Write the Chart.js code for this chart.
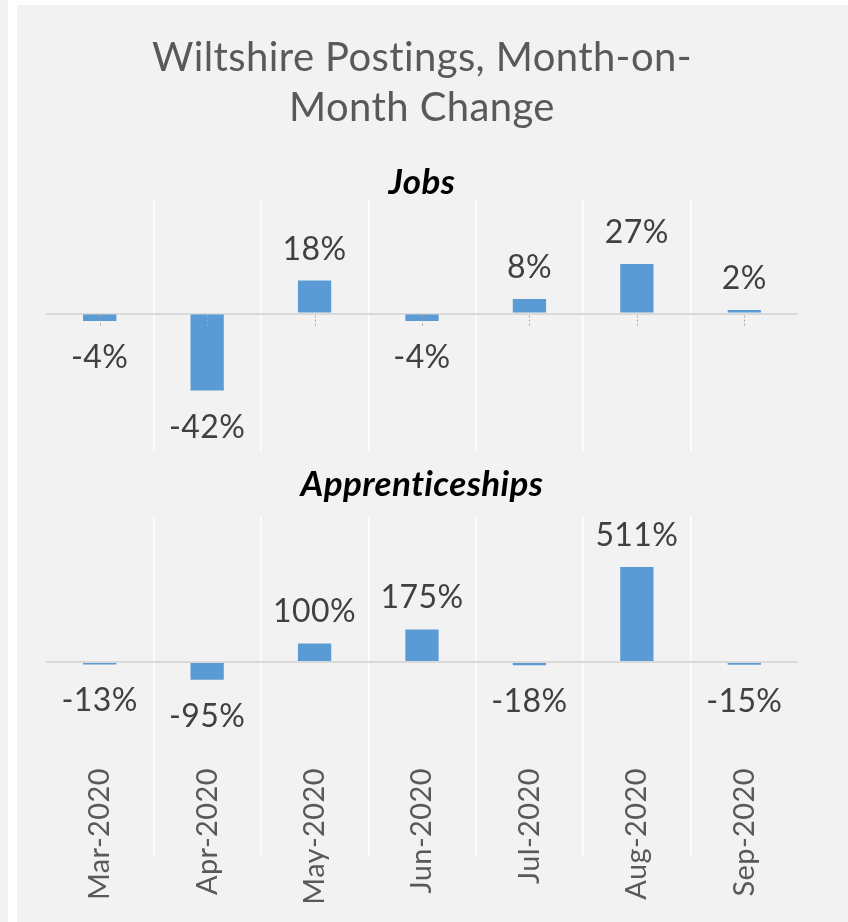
<!DOCTYPE html>
<html>
<head>
<meta charset="utf-8">
<title>Wiltshire Postings, Month-on-Month Change</title>
<script src="https://cdn.jsdelivr.net/npm/chart.js@4.4.1/dist/chart.umd.min.js"></script>
<style>
  html, body { margin: 0; padding: 0; background: #fff; width: 848px; height: 922px; overflow: hidden; }
  #strip { position: absolute; left: 0; top: 0; width: 8px; height: 922px; background: #f2f2f2; }
  #panel { position: absolute; left: 17px; top: 5px; width: 831px; height: 917px; background: #f2f2f2; }
  canvas { position: absolute; left: 0; }
  #jobsChart { top: 0; }
  #appChart { top: 455px; }
</style>
</head>
<body>
<div id="strip"></div>
<div id="panel">
  <canvas id="jobsChart" width="831" height="455"></canvas>
  <canvas id="appChart" width="831" height="462"></canvas>
</div>
<script>
// data
const months = ['Mar-2020', 'Apr-2020', 'May-2020', 'Jun-2020', 'Jul-2020', 'Aug-2020', 'Sep-2020'];
const jobsChange = [-4, -42, 18, -4, 8, 27, 2];
const apprenticeshipChange = [-13, -95, 100, 175, -18, 511, -15];

const barColor = '#5b9bd5';
const fontFamily = 'Lato, "Open Sans", sans-serif';

// a touch of letter spacing (also stops Lato's "ti" ligature)
const spacing = {
  id: 'spacing',
  beforeUpdate(chart) { chart.ctx.letterSpacing = '0.4px'; }
};

// draws the % labels above / below each bar
const valueLabels = {
  id: 'valueLabels',
  afterDatasetsDraw(chart, args, opts) {
    const ctx = chart.ctx;
    const meta = chart.getDatasetMeta(0);
    const values = chart.data.datasets[0].data;
    const zero = chart.scales.y.getPixelForValue(0);
    ctx.save();
    // little dotted marks under the axis (jobs panel only)
    if (opts.marks) {
      ctx.strokeStyle = '#a6a6a6';
      ctx.lineWidth = 1;
      ctx.setLineDash([2, 2]);
      meta.data.forEach(bar => {
        ctx.beginPath();
        ctx.moveTo(Math.round(bar.x) + 0.5, zero + 2);
        ctx.lineTo(Math.round(bar.x) + 0.5, zero + 13);
        ctx.stroke();
      });
      ctx.setLineDash([]);
    }
    ctx.font = '32px ' + fontFamily;
    ctx.fillStyle = '#404040';
    ctx.textAlign = 'center';
    ctx.textBaseline = 'alphabetic';
    meta.data.forEach((bar, i) => {
      const v = values[i];
      const y = v >= 0 ? bar.y - 21 : bar.y + 47;
      ctx.fillText(v + '%', bar.x, y);
    });
    ctx.restore();
  }
};

const vGrid = c => (c.index > 0 && c.index < months.length) ? '#ffffff' : 'rgba(0,0,0,0)';

// only the zero line is drawn on the value axis
function yScale(min, max) {
  return {
    min: min, max: max,
    afterBuildTicks: axis => { axis.ticks = [{ value: 0 }]; },
    ticks: { display: false },
    grid: { color: '#d9d9d9', lineWidth: 2, drawTicks: false },
    border: { display: false }
  };
}

const subFont = { family: fontFamily, size: 35, weight: 'bold', style: 'italic', lineHeight: 1 };

new Chart(document.getElementById('jobsChart'), {
  type: 'bar',
  data: {
    labels: months,
    datasets: [{ data: jobsChange, backgroundColor: barColor, barPercentage: 1, categoryPercentage: 0.31 }]
  },
  options: {
    responsive: false,
    animation: false,
    layout: { padding: { left: 29, right: 50, top: 0, bottom: 9 } },
    scales: {
      x: {
        ticks: { display: false },
        grid: { color: vGrid, lineWidth: 1.5, drawTicks: false },
        border: { display: false }
      },
      y: yScale(-75, 62)
    },
    plugins: {
      legend: { display: false },
      tooltip: { enabled: false },
      title: {
        display: true,
        text: ['Wiltshire Postings, Month-on-', 'Month Change'],
        color: '#595959',
        font: { family: fontFamily, size: 40, weight: 'normal', lineHeight: 1.25 },
        padding: { top: 28, bottom: 32 }
      },
      subtitle: {
        display: true,
        text: 'Jobs',
        color: '#000000',
        font: subFont,
        padding: { top: 0, bottom: 0 }
      },
      valueLabels: { marks: true }
    }
  },
  plugins: [spacing, valueLabels]
});

// x grid lines run on below the plot as long tick marks, labels sit over them
new Chart(document.getElementById('appChart'), {
  type: 'bar',
  data: {
    labels: months,
    datasets: [{ data: apprenticeshipChange, backgroundColor: barColor, barPercentage: 1, categoryPercentage: 0.31 }]
  },
  options: {
    responsive: false,
    animation: false,
    layout: { padding: { left: 29, right: 50, top: 0, bottom: 12 } },
    scales: {
      x: {
        afterFit: axis => { axis.height = 150; },
        ticks: {
          autoSkip: false, minRotation: 90, maxRotation: 90, padding: -89,
          color: '#595959', font: { family: fontFamily, size: 29 }
        },
        grid: { color: vGrid, lineWidth: 1.5, drawTicks: true, tickLength: 97 },
        border: { display: false }
      },
      y: yScale(-527, 785)
    },
    plugins: {
      legend: { display: false },
      tooltip: { enabled: false },
      title: {
        display: true,
        text: 'Apprenticeships',
        color: '#000000',
        font: subFont,
        padding: { top: 7, bottom: 14 }
      },
      valueLabels: { marks: false }
    }
  },
  plugins: [spacing, valueLabels]
});
</script>
</body>
</html>
